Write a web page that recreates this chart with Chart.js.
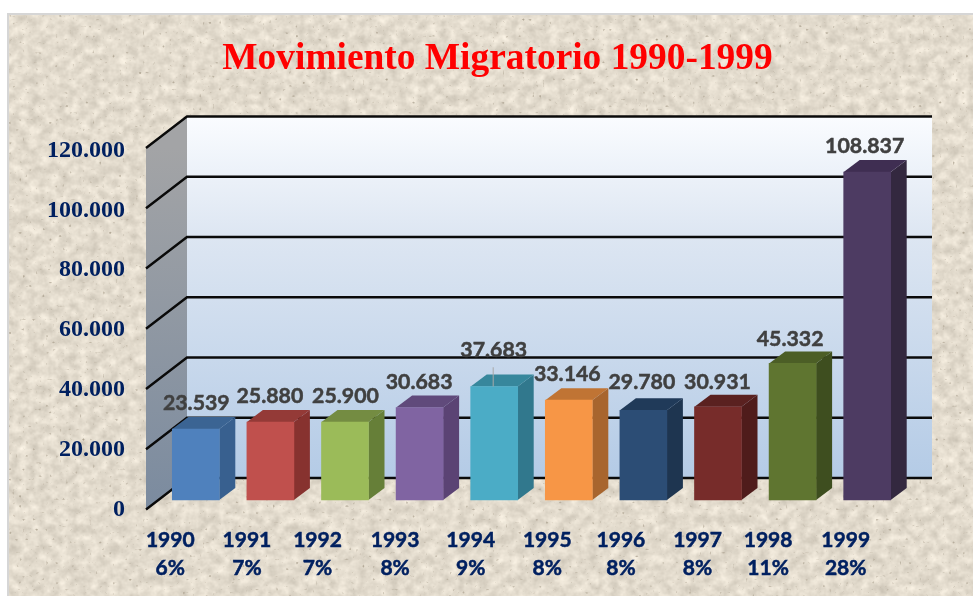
<!DOCTYPE html>
<html lang="es">
<head>
<meta charset="utf-8">
<title>Movimiento Migratorio 1990-1999</title>
<style>
html,body{margin:0;padding:0;background:#fff;width:973px;height:597px;overflow:hidden}
#panel{position:absolute;left:7px;top:13px;width:966px;height:583px;box-sizing:border-box;border-left:2px solid #d6d6d6;border-top:2px solid #d6d6d6;
background-image:url("data:image/svg+xml,%3Csvg xmlns='http://www.w3.org/2000/svg' width='973' height='597'%3E%3Cfilter id='n' x='0' y='0' width='100%25' height='100%25' color-interpolation-filters='sRGB'%3E%3CfeTurbulence type='fractalNoise' baseFrequency='0.1' numOctaves='3' seed='11' result='a'/%3E%3CfeColorMatrix in='a' values='0.22 0 0 0 0.78 0.22 0 0 0 0.75 0.22 0 0 0 0.695 0 0 0 0 1' result='base'/%3E%3CfeTurbulence type='fractalNoise' baseFrequency='0.3' numOctaves='1' seed='5' result='b'/%3E%3CfeColorMatrix in='b' values='0 0 0 0 0.68 0 0 0 0 0.64 0 0 0 0 0.57 6 0 0 0 -4.1' result='sp'/%3E%3CfeMerge%3E%3CfeMergeNode in='base'/%3E%3CfeMergeNode in='sp'/%3E%3C/feMerge%3E%3C/filter%3E%3Crect width='973' height='597' filter='url(%23n)'/%3E%3C/svg%3E");}
canvas{position:absolute;left:0;top:0}
</style>
</head>
<body>
<div id="panel"></div>
<canvas id="c" width="973" height="597"></canvas>
<script src="https://cdn.jsdelivr.net/npm/chart.js@4/dist/chart.umd.min.js"></script>
<script>
const titleText = 'Movimiento Migratorio 1990-1999';
const years = ['1990','1991','1992','1993','1994','1995','1996','1997','1998','1999'];
const shares = ['6%','7%','7%','8%','9%','8%','8%','8%','11%','28%'];
const values = [23539,25880,25900,30683,37683,33146,29780,30931,45332,108837];

const frontColors = ['#4f81bd','#c0504d','#9bbb59','#8064a2','#4bacc6','#f79646','#2c4d75','#772c2a','#5f7530','#4d3b62'];
const sideColors  = ['#38608f','#87322f','#667f38','#5b4374','#31788d','#a8652e','#1e3550','#4f1c1b','#3e4e1f','#33283f'];
const topColors   = ['#3b6493','#943a37','#748c42','#604a7b','#37879c','#c07434','#203a59','#5a2120','#4c5e26','#3f2e52'];

/* layout only */
const yMax = 120000, yStep = 20000;
const barScaleMin = -2822, barScaleMax = 116348;
const wallFrontOffset = 9.5, wallBackOffset = -22;
const wallLeft = 146, wallRight = 891, wallDepthX = 41;
const barDepth = {x:16, y:-12};
const xLabelShift = [-25.5,-23.5,-27.5,-24.5,-23.5,-21.5,-22.5,-20.5,-24.5,-21.5];
const valueShiftX = [0.5,-0.5,0.5,-0.5,-0.5,-1.5,-1.5,-0.5,-2.5,-2.5];
const valueShiftY = [-26.2,-25.7,-25.7,-25.7,-36.2,-25.7,-27.7,-24.7,-24.7,-25.7];
const leaderIndex = 4;

const fmt = v => String(v).replace(/\B(?=(\d{3})+(?!\d))/g,'.');
function poly(ctx, pts, fill){
  ctx.beginPath(); pts.forEach((p,i)=> i?ctx.lineTo(p[0],p[1]):ctx.moveTo(p[0],p[1])); ctx.closePath();
  ctx.fillStyle = fill; ctx.fill();
}

const plugin3d = {
  id:'walls3d',
  beforeDatasetsDraw(chart){
    const {ctx, scales:{y, y2}} = chart;
    const L = wallLeft, bx = wallLeft+wallDepthX, rx = wallRight+wallDepthX;
    const f = v => y2.getPixelForValue(v)+wallFrontOffset;
    const k = v => y2.getPixelForValue(v)+wallBackOffset;
    ctx.save();
    let g = ctx.createLinearGradient(0,k(yMax),0,k(0));
    g.addColorStop(0,'#fafcff'); g.addColorStop(.33,'#dde6f2'); g.addColorStop(1,'#b4cbe6');
    poly(ctx,[[bx,k(yMax)],[rx,k(yMax)],[rx,k(0)],[bx,k(0)]],g);
    g = ctx.createLinearGradient(0,f(yMax),0,f(0));
    g.addColorStop(0,'#a3a4a6'); g.addColorStop(1,'#7b8b9f');
    poly(ctx,[[L,f(yMax)],[bx,k(yMax)],[bx,k(0)],[L,f(0)]],g);
    ctx.strokeStyle='#0a0a0a'; ctx.lineWidth=2.4;
    y.ticks.forEach(t=>{
      ctx.beginPath(); ctx.moveTo(L,f(t.value)); ctx.lineTo(bx,k(t.value)); ctx.lineTo(rx,k(t.value)); ctx.stroke();
    });
    /* bar depth faces */
    const meta = chart.getDatasetMeta(0);
    meta.data.forEach((b,i)=>{
      const l=b.x-b.width/2, r=b.x+b.width/2, t=b.y, bo=b.base, dx=barDepth.x, d=barDepth.y;
      poly(ctx,[[r,t],[r+dx,t+d],[r+dx,bo+d],[r,bo]],sideColors[i]);
      poly(ctx,[[l,t],[l+dx,t+d],[r+dx,t+d],[r,t]],topColors[i]);
    });
    ctx.restore();
  },
  afterDatasetsDraw(chart){
    const {ctx} = chart;
    const meta = chart.getDatasetMeta(0);
    ctx.save();
    ctx.font = 'bold 21.3px Lato, sans-serif';
    ctx.fillStyle = '#404040';
    ctx.strokeStyle = '#404040';
    ctx.textAlign='center'; ctx.textBaseline='middle';
    meta.data.forEach((b,i)=>{
      const ly = b.y+valueShiftY[i];
      if(i===leaderIndex){
        ctx.strokeStyle='#a9a9a9'; ctx.lineWidth=1;
        ctx.beginPath(); ctx.moveTo(b.x-1,ly+17); ctx.lineTo(b.x-1,b.y); ctx.stroke();
        ctx.strokeStyle='#404040';
      }
      ctx.lineWidth=0.5;
      ctx.fillText(fmt(values[i]), b.x+valueShiftX[i], ly);
      ctx.strokeText(fmt(values[i]), b.x+valueShiftX[i], ly);
    });
    ctx.restore();
  }
};

new Chart(document.getElementById('c'),{
  type:'bar',
  data:{
    labels: years.map((yr,i)=>[yr,shares[i]]),
    datasets:[{
      label:'Movimiento Migratorio',
      data: values,
      yAxisID:'y2',
      backgroundColor: frontColors,
      borderWidth:0,
      barThickness:47
    }]
  },
  plugins:[plugin3d],
  options:{
    responsive:false,
    animation:false,
    layout:{padding:{left:22,top:0,right:0,bottom:0}},
    plugins:{
      legend:{display:false},
      tooltip:{enabled:false},
      title:{
        display:true,
        text:titleText,
        color:'#ff0000',
        font:{family:'"Liberation Serif",serif',size:37.4,weight:'bold',lineHeight:1.2},
        padding:{top:37,bottom:67.6}
      }
    },
    scales:{
      x:{
        grid:{display:false,drawTicks:false},
        border:{display:false},
        afterFit(s){ s.height = 88.5; },
        afterBuildTicks(s){
          if(!s._shifted){
            const base = s.getPixelForTick;
            s.getPixelForTick = i => base.call(s,i)+xLabelShift[i];
            s._shifted = true;
          }
        },
        ticks:{
          autoSkip:false,maxRotation:0,padding:17.5,
          color:'#002060',
          textStrokeColor:'#002060',textStrokeWidth:0.5,
          font:{family:'Lato, sans-serif',size:21,weight:'bold',lineHeight:1.33}
        }
      },
      y:{
        position:'left',min:0,max:yMax,
        grid:{display:false,drawTicks:false},
        border:{display:false},
        afterFit(s){ s.width = 136.5; },
        ticks:{
          stepSize:yStep,padding:33.5,labelOffset:1,color:'#002060',
          font:{family:'"Liberation Serif",serif',size:24,weight:'bold'},
          callback:v=>fmt(v)
        }
      },
      y2:{
        position:'right',min:barScaleMin,max:barScaleMax,
        grid:{display:false,drawTicks:false},
        border:{display:false},
        ticks:{display:false},
        afterFit(s){ s.width = 68.5; }
      }
    }
  }
});
</script>
</body>
</html>
